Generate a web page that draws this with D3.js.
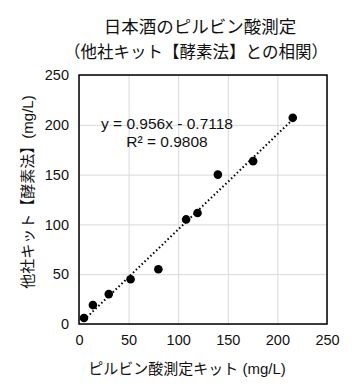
<!DOCTYPE html>
<html>
<head>
<meta charset="utf-8">
<script src="https://cdn.jsdelivr.net/npm/d3@7"></script>
<style>
  body { margin: 0; background: #fff; }
  text { font-family: "Liberation Sans", Arial, "Noto Sans CJK JP", sans-serif; }
</style>
</head>
<body>
<div class="chart"></div>
<script>
// measured values (mg/L)
var kitValues   = [5, 14, 30, 52, 80, 108, 119.5, 140, 175.5, 215.5];
var otherValues = [6, 19, 30, 45, 55, 105, 111.5, 150, 163.5, 207];
var xTicks = [0, 50, 100, 150, 200, 250];
var yTicks = [0, 50, 100, 150, 200, 250];
var slope = 0.956, intercept = -0.7118, r2 = '0.9808';

var margin = { top: 75, right: 29, bottom: 68, left: 79 };
var width = 356 - margin.left - margin.right;
var height = 392 - margin.top - margin.bottom;

var root = d3.select('.chart')
  .append('svg')
    .attr('width', 356)
    .attr('height', 392);

var svg = root.append('g')
    .attr('transform', 'translate(' + margin.left + ',' + margin.top + ')');

var xScale = d3.scaleLinear().domain([0, 250]).range([0, width]);
var yScale = d3.scaleLinear().domain([0, 250]).range([height, 0]);

// grid
svg.append('g')
  .call(d3.axisBottom(xScale).tickValues(xTicks).tickSize(height).tickFormat(''))
  .call(g => g.select('.domain').remove())
  .selectAll('line').attr('stroke', '#d9d9d9');
svg.append('g')
  .call(d3.axisLeft(yScale).tickValues(yTicks).tickSize(-width).tickFormat(''))
  .call(g => g.select('.domain').remove())
  .selectAll('line').attr('stroke', '#d9d9d9');

// axis labels
var xAxis = svg.append('g')
  .attr('transform', `translate(0, ${height})`)
  .call(d3.axisBottom(xScale).tickValues(xTicks).tickSize(0).tickPadding(11));
xAxis.select('.domain').remove();
xAxis.selectAll('text').attr('font-size', 14.5).attr('fill', '#111');

var yAxis = svg.append('g')
  .call(d3.axisLeft(yScale).tickValues(yTicks).tickSize(0).tickPadding(10));
yAxis.select('.domain').remove();
yAxis.selectAll('text').attr('font-size', 14.5).attr('fill', '#111');

// trendline
var line = d3.line()
  .x(d => xScale(d))
  .y(d => yScale(slope * d + intercept));
svg.append('path')
  .attr('d', line([d3.min(kitValues), d3.max(kitValues)]))
  .style('stroke', '#000')
  .style('stroke-width', 2)
  .style('stroke-dasharray', '1.5,2.5')
  .style('fill', 'none');

// points
svg.selectAll('circle')
  .data(kitValues)
  .enter()
  .append('circle')
  .attr('cx', d => xScale(d))
  .attr('cy', (d, i) => yScale(otherValues[i]))
  .attr('r', 4.3)
  .attr('fill', '#000');

// border
svg.append('rect')
  .attr('width', width).attr('height', height)
  .attr('fill', 'none').attr('stroke', '#000').attr('stroke-width', 1.5);

// equation
svg.append('text')
  .attr('x', 88).attr('y', 54)
  .attr('text-anchor', 'middle').attr('font-size', 15.5).attr('fill', '#111')
  .text('y = ' + slope + 'x - ' + Math.abs(intercept));
svg.append('text')
  .attr('x', 88).attr('y', 72)
  .attr('text-anchor', 'middle').attr('font-size', 15.5).attr('fill', '#111')
  .text('R² = ' + r2);

// titles
root.append('text')
  .attr('x', 200).attr('y', 33)
  .attr('text-anchor', 'middle').attr('font-size', 17.5).attr('fill', '#111')
  .text('日本酒のピルビン酸測定');
root.append('text')
  .attr('x', 196).attr('y', 58)
  .attr('text-anchor', 'middle').attr('font-size', 16.5).attr('fill', '#111')
  .text('（他社キット【酵素法】との相関）');

root.append('text')
  .attr('x', 187).attr('y', 374)
  .attr('text-anchor', 'middle').attr('font-size', 15).attr('fill', '#111')
  .text('ピルビン酸測定キット (mg/L)');
root.append('text')
  .attr('transform', 'translate(33, 192) rotate(-90)')
  .attr('text-anchor', 'middle').attr('font-size', 15).attr('fill', '#111')
  .text('他社キット【酵素法】(mg/L)');
</script>
</body>
</html>
